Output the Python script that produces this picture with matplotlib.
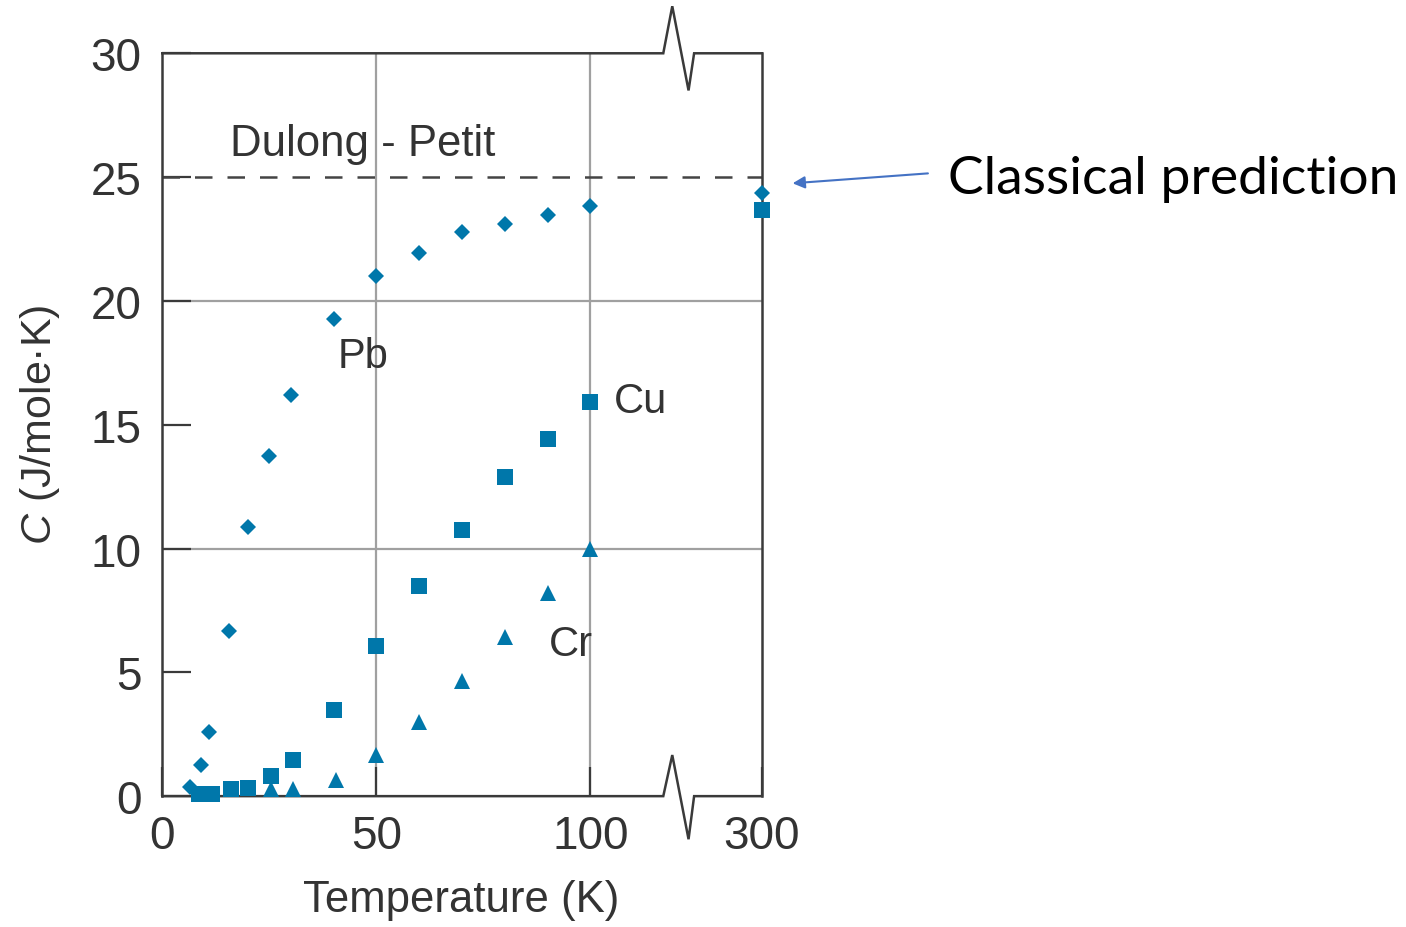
import matplotlib
matplotlib.use("Agg")
import matplotlib.pyplot as plt
import numpy as np

plt.rcParams['font.family'] = ['Liberation Sans', 'DejaVu Sans']
plt.rcParams['mathtext.fontset'] = 'custom'
plt.rcParams['mathtext.it'] = 'Liberation Sans:italic'
plt.rcParams['mathtext.rm'] = 'Liberation Sans'

# data (T in K, C in J/mole K); 300 K sits at the axis end
pb_T = [6.5, 9, 11, 15.5, 20, 25, 30, 40, 50, 60, 70, 80, 90, 100, 300]
pb_C = [0.35, 1.27, 2.6, 6.65, 10.87, 13.75, 16.2, 19.27, 21.0, 21.95, 22.8, 23.12, 23.48, 23.85, 24.35]
cu_T = [8.6, 11.6, 16, 20, 25.5, 30.5, 40, 50, 60, 70, 80, 90, 100, 300]
cu_C = [0.1, 0.1, 0.28, 0.31, 0.81, 1.46, 3.48, 6.06, 8.47, 10.75, 12.9, 14.41, 15.9, 23.69]
cr_T = [25.5, 30.5, 40.5, 50, 60, 70, 80, 90, 100]
cr_C = [0.27, 0.27, 0.65, 1.66, 2.99, 4.64, 6.42, 8.22, 10.0]
dulong_petit = 25
x_ticks = [0, 50, 100, 300]
y_ticks = [0, 5, 10, 15, 20, 25, 30]

x_end = 140      # where 300 K is drawn
brk = 117        # axis break position

def tx(T):
    T = np.asarray(T, dtype=float)
    return np.where(T >= 300, x_end, T)

blue = '#0077aa'
dark = '#3a3a3a'
txtc = '#333333'

fig = plt.figure(figsize=(14.06, 9.28), dpi=100)
ax = fig.add_axes([0.1154, 0.1410, 0.4264, 0.8005])
ax.set_xlim(0, x_end)
ax.set_ylim(0, 30)

# grid
for g in [50, 100]:
    ax.axvline(g, color='#a0a0a0', lw=1.6, zorder=1)
for g in [10, 20]:
    ax.axhline(g, color='#a0a0a0', lw=1.6, zorder=1)

ax.axhline(dulong_petit, color='#444444', lw=1.8, dashes=(7.0, 6.0), zorder=2)

ax.plot(tx(pb_T), pb_C, 'D', ms=8.6, color=blue, mew=0, clip_on=False, zorder=5)
ax.plot(tx(cu_T), cu_C, 's', ms=11.5, color=blue, mew=0, clip_on=False, zorder=5)
ax.plot(tx(cr_T), cr_C, '^', ms=11.5, color=blue, mew=0, clip_on=False, zorder=5)

ax.text(46.8, 17.77, 'Pb', fontsize=30, color=txtc, ha='center', va='center')
ax.text(105.4, 15.95, 'Cu', fontsize=30, color=txtc, ha='left', va='center')
ax.text(90.2, 6.13, 'Cr', fontsize=30, color=txtc, ha='left', va='center')
ax.text(46.8, 26.35, 'Dulong - Petit', fontsize=31.5, color=txtc, ha='center', va='center')

# spines with break marks
for s in ['top', 'bottom']:
    ax.spines[s].set_visible(False)
for s in ['left', 'right']:
    ax.spines[s].set_color(dark)
    ax.spines[s].set_linewidth(1.8)
zx = [0, brk, brk + 2.1, brk + 5.9, brk + 7.2, x_end]
ax.plot(zx, [30, 30, 31.9, 28.5, 30, 30], color=dark, lw=1.8, clip_on=False, zorder=4,
        solid_joinstyle='miter')
ax.plot(zx, [0, 0, 1.66, -1.74, 0, 0], color=dark, lw=1.8, clip_on=False, zorder=4,
        solid_joinstyle='miter')

ax.set_xticks(tx(x_ticks))
ax.set_xticklabels([str(t) for t in x_ticks])
ax.set_yticks(y_ticks)
ax.tick_params(direction='in', length=21, width=1.6, color=dark, labelsize=33,
               labelcolor=txtc)
ax.tick_params(axis='x', pad=13)
ax.tick_params(axis='y', pad=15)

fig.text(0.328, 0.030, 'Temperature (K)', fontsize=31.5, color=txtc, ha='center', va='center')
fig.text(0.0285, 0.542, r'$\it{C}$ (J/mole·K)', fontsize=31, color=txtc, ha='center',
         va='center', rotation=90)

# classical prediction arrow
ax.annotate('', xy=(147.2, 24.75), xytext=(178.8, 25.15), annotation_clip=False,
            arrowprops=dict(arrowstyle='-|>', color='#4472c4', lw=1.5,
                            mutation_scale=18, shrinkA=0, shrinkB=0))
ax.text(183.5, 24.95, 'Classical prediction', fontsize=38.5, family='Lato', color='black',
        ha='left', va='center', clip_on=False)

fig.savefig('out.png', dpi=100)
